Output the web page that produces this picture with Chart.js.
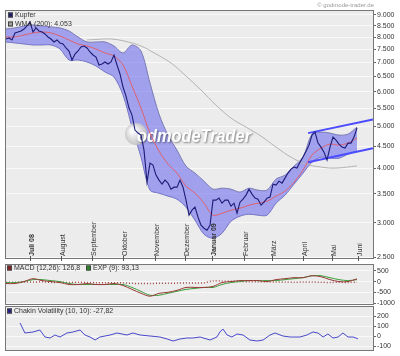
<!DOCTYPE html>
<html><head><meta charset="utf-8">
<script src="https://cdn.jsdelivr.net/npm/chart.js@4.4.0/dist/chart.umd.min.js"></script>
<style>
html,body{margin:0;padding:0;background:#fff;width:400px;height:356px;overflow:hidden}
canvas{position:absolute;left:0}
</style></head><body>
<canvas id="main" style="top:0px" width="400" height="262"></canvas>
<canvas id="macd" style="top:262px" width="400" height="44"></canvas>
<canvas id="chaikin" style="top:306px" width="400" height="50"></canvas>
<script>
// ---------- DATA ----------
// x values are sample indices (one sample ≈ 2 trading sessions, June 2008 – June 2009)
const monthLabels = ['Juli 08','August','September','Oktober','November','Dezember','Januar 09','Februar','März','April','Mai','Juni'];
const monthPos = [8,18.3,28.7,39,49.7,59.7,68.7,79.3,88.7,99,108.7,117.3];
const monthBold = [true,false,false,false,false,false,true,false,false,false,false,false];
const priceTicks = [2500,3000,3500,4000,4500,5000,5500,6000,6500,7000,7500,8000,8500,9000];

const price = [7926,7969,7885,8183,8226,8270,8358,8491,8673,8226,
 8403,8270,8226,8139,8011,7926,7802,7885,7761,7720,
 7557,7438,7093,7321,7438,7598,7637,7557,7399,7283,
 7206,6908,6945,7019,6945,7019,7283,6908,6587,6149,
 5862,5502,5301,4897,4821,4768,4404,3718,4112,4069,
 3859,3758,3679,3758,3699,3583,3621,3621,3758,3621,
 3381,3122,3206,3258,3090,2961,2914,2884,2961,3381,
 3381,3417,3327,3381,3381,3275,3327,3155,3345,3399,
 3472,3583,3490,3417,3399,3292,3345,3417,3435,3679,
 3660,3738,3699,3798,3901,3985,4027,4006,4134,4245,
 4381,4522,4768,4846,4571,4475,4358,4177,4475,4719,
 4644,4547,4475,4451,4571,4571,4719,4950];

const bandX = [0,3,6,9,12,15,18,21,24,27,30,33,36,39,42,45,48,51,54,57,60,63,66,69,72,75,78,81,84,87,90,93,96,99,102,105,108,111,114,117];
const bandUpper = [8358,8403,8491,8537,8491,8447,8403,8270,8011,7802,7802,7802,7637,7360,7679,7438,6280,5330,4768,4404,4047,3900,3738,3583,3602,3583,3527,3602,3564,3564,3778,3859,4047,4243,4793,4845,4819,4768,4793,4975];
const bandLower = [7802,7761,7720,7679,7679,7679,7518,7093,7093,7019,6871,6657,6481,5893,4975,4243,3564,3508,3453,3398,3258,3040,2823,2764,2838,3024,3106,3139,3122,3122,3327,3471,3679,3900,4133,4243,4220,4220,4312,4381];
const bandMid = [8011,8011,8097,8183,8226,8183,8054,7885,7720,7637,7518,7360,7245,6908,6181,5502,4819,4381,4090,3900,3640,3508,3327,3122,3155,3206,3240,3292,3327,3362,3453,3545,3718,3962,4289,4451,4547,4522,4571,4693];

const wmaX = [27,30,35,40,45,50,55,60,65,70,75,80,85,90,95,100,105,110,117];
const wma = [7885,7906,7926,7822,7637,7321,6981,6517,6051,5589,5218,4975,4743,4475,4243,4090,4027,4006,4053];

const trendX = [100.7,122.3];
const trendUpperY = [4819,5180];
const trendLowerY = [4133,4451];

const macdX = bandX;
const macd = [-91,-91,0,136,45,0,-45,-136,-136,-91,-136,-136,-91,-182,-364,-545,-682,-545,-500,-409,-273,-273,-273,-227,-45,0,45,45,45,0,91,136,182,182,273,227,91,0,0,127];
const macdSignal = [-45,-45,0,91,91,45,0,-91,-136,-136,-136,-136,-136,-136,-273,-455,-636,-636,-545,-455,-364,-318,-273,-273,-136,-45,0,45,45,45,45,91,136,182,273,273,182,91,45,93];
const macdHist = [-30,-30,-20,-20,-10,-40,-30,-40,-30,-40,-50,-60,-50,-60,-80,-90,-90,-80,-80,-70,-60,-70,-60,30,20,20,10,-10,-10,-10,-20,-20,-30,-20,-20,-30,-40,-30,-40,-20];
const macdTicks = [500,0,-500,-1000];

const chaikinX = [4.7,6.3,9,11.3,13,14.7,16.3,18,20.3,22.3,24.7,26.3,28,29.7,31.3,34.7,37,40.3,42.3,44.7,48,51.3,53.7,55.7,58,60.3,62.3,64.7,68,70.3,71.3,72.3,73.7,75.3,77,79,81.3,83.7,85.7,88,89.7,92.3,94.7,98,100.3,102.3,104,105.7,107.3,109,110.7,112.3,114,115.7,117.3];
const chaikin = [130,30,40,60,-10,-20,10,-10,30,40,60,10,-10,-40,-10,10,30,10,30,10,0,-10,-30,-50,-30,-20,-20,-10,-40,-10,40,70,10,-10,20,10,-40,-50,-40,10,30,0,-10,-10,10,40,30,-10,20,-20,-10,30,-10,-10,-28];
const chaikinTicks = [200,100,0,-100];

// ---------- HELPERS ----------
const FONT = '"Liberation Sans", Arial, sans-serif';
const pts = (xs, ys) => ys.map((v, i) => ({x: xs[i], y: v}));
const fmtDE = v => String(v).replace(/\B(?=(\d{3})+(?!\d))/g, '.');
const XMAX = 122.33;

function panelPlugin(id, bg, legend) {
  return {
    id,
    beforeDraw(chart) {
      const {ctx, chartArea: a} = chart;
      ctx.save();
      ctx.fillStyle = bg;
      ctx.fillRect(a.left, a.top, a.right - a.left, a.bottom - a.top);
      ctx.restore();
    },
    afterDraw(chart) {
      const {ctx, chartArea: a} = chart;
      ctx.save();
      ctx.strokeStyle = '#777';
      ctx.lineWidth = 1;
      ctx.strokeRect(Math.round(a.left) - 0.5, Math.round(a.top) - 0.5, Math.round(a.right - a.left) + 1, Math.round(a.bottom - a.top) + 1);
      ctx.font = '7px ' + FONT;
      ctx.textBaseline = 'middle';
      legend.forEach(it => {
        ctx.fillStyle = it.color;
        ctx.fillRect(it.x, it.y - 2.5, 5, 5);
        ctx.strokeStyle = '#444';
        ctx.strokeRect(it.x + 0.5, it.y - 2, 4, 4);
        ctx.fillStyle = '#333';
        ctx.fillText(it.text, it.x + 7, it.y + 0.5);
      });
      ctx.restore();
    }
  };
}

function yAxis(ticks, min, max, type, fmt) {
  return {
    type, position: 'right', min, max,
    afterBuildTicks: s => { s.ticks = ticks.map(v => ({value: v})); },
    afterFit: s => { s.width = 27; s.paddingTop = 0; s.paddingBottom = 0; },
    ticks: {callback: v => fmt(v), font: {family: FONT, size: 7}, color: '#333', padding: 1, autoSkip: false, maxRotation: 0},
    grid: {color: '#f9f9f9', lineWidth: 1, tickLength: 3, tickColor: '#666'},
    border: {display: true, color: '#555', width: 1}
  };
}
const xAxis = {type: 'linear', min: 0, max: XMAX, display: false};

// ---------- MAIN CHART ----------
const mainExtras = {
  id: 'mainExtras',
  afterDatasetDraw(chart, args) {
    if (args.index !== 1) return; // after the band has been painted
    const {ctx} = chart;
    ctx.save();
    const g = ctx.createRadialGradient(133, 130, 2, 136, 134, 12);
    g.addColorStop(0, 'rgba(255,255,255,0.95)');
    g.addColorStop(1, 'rgba(190,190,190,0.9)');
    ctx.fillStyle = g;
    ctx.beginPath(); ctx.arc(136, 134, 11, 0, Math.PI * 2); ctx.fill();
    ctx.font = 'italic bold 19px ' + FONT;
    ctx.textBaseline = 'alphabetic';
    ctx.shadowColor = 'rgba(0,0,0,0.45)';
    ctx.shadowOffsetX = 1; ctx.shadowOffsetY = 1; ctx.shadowBlur = 2;
    ctx.fillStyle = '#ffffff';
    ctx.fillText('odmodeTrader', 137, 142, 114);
    ctx.restore();
  },
  afterDraw(chart) {
    const {ctx, chartArea: a, scales: {x}} = chart;
    ctx.save();
    monthPos.forEach((p, k) => {
      const px = Math.round(x.getPixelForValue(p)) + 0.5;
      ctx.strokeStyle = '#555';
      ctx.lineWidth = 1;
      ctx.beginPath(); ctx.moveTo(px, a.bottom - 2); ctx.lineTo(px, a.bottom + 3); ctx.stroke();
      ctx.save();
      ctx.translate(px + 2, a.bottom - 2);
      ctx.rotate(-Math.PI / 2);
      ctx.font = (monthBold[k] ? 'bold ' : '') + '7px ' + FONT;
      ctx.fillStyle = '#333';
      ctx.textAlign = 'left';
      ctx.textBaseline = 'middle';
      ctx.fillText(monthLabels[k], 0, 0);
      ctx.restore();
    });
    ctx.font = '6px ' + FONT;
    ctx.fillStyle = '#999';
    ctx.textAlign = 'right';
    ctx.textBaseline = 'middle';
    ctx.fillText('© godmode-trader.de', 374, 5);
    ctx.restore();
  }
};

new Chart(document.getElementById('main'), {
  type: 'line',
  data: {
    datasets: [
      {label: 'Kupfer', data: pts(price.map((_, i) => i), price), borderColor: '#1c1c78', borderWidth: 1.1, pointRadius: 0, tension: 0, order: 0},
      {label: 'Band oben', data: pts(bandX, bandUpper), borderColor: '#7a7ab4', borderWidth: 1, pointRadius: 0, tension: 0.3, fill: '+1', backgroundColor: 'rgba(105,105,238,0.58)', order: 4},
      {label: 'Band unten', data: pts(bandX, bandLower), borderColor: '#7a7ab4', borderWidth: 1, pointRadius: 0, tension: 0.3, order: 5},
      {label: 'Mitte', data: pts(bandX, bandMid), borderColor: '#e0606e', borderWidth: 1, pointRadius: 0, tension: 0.3, order: 2},
      {label: 'WMA (200)', data: pts(wmaX, wma), borderColor: '#b4b4b4', borderWidth: 1, pointRadius: 0, tension: 0.4, order: 3},
      {label: 'Trend oben', data: pts(trendX, trendUpperY), borderColor: '#4b4bff', borderWidth: 2, pointRadius: 0, order: 1},
      {label: 'Trend unten', data: pts(trendX, trendLowerY), borderColor: '#4b4bff', borderWidth: 2, pointRadius: 0, order: 1}
    ]
  },
  options: {
    responsive: false, animation: false, devicePixelRatio: 1,
    layout: {padding: {left: 6, top: 11, right: 0, bottom: 4}},
    plugins: {legend: {display: false}, tooltip: {enabled: false}},
    scales: {x: xAxis, y: yAxis(priceTicks, 2490, 9190, 'logarithmic', fmtDE)}
  },
  plugins: [panelPlugin('mainPanel', '#ececec', [
    {x: 8, y: 15, color: '#1c1c6e', text: 'Kupfer'},
    {x: 8, y: 24, color: '#a0a0a0', text: 'WMA (200): 4.053'}
  ]), mainExtras]
});

// ---------- MACD ----------
new Chart(document.getElementById('macd'), {
  type: 'line',
  data: {
    datasets: [
      {label: 'MACD', data: pts(macdX, macd), borderColor: '#9a3838', borderWidth: 1, pointRadius: 0, tension: 0.3, order: 0},
      {label: 'EXP', data: pts(macdX, macdSignal), borderColor: '#3aa03a', borderWidth: 1, pointRadius: 0, tension: 0.3, order: 1},
      {label: 'Hist', data: pts(macdX, macdHist), borderColor: '#a04848', borderWidth: 1.5, borderDash: [1, 2], pointRadius: 0, tension: 0.3, order: 2}
    ]
  },
  options: {
    responsive: false, animation: false, devicePixelRatio: 1,
    layout: {padding: {left: 6, top: 3, right: 0, bottom: 2}},
    plugins: {legend: {display: false}, tooltip: {enabled: false}},
    scales: {x: xAxis, y: yAxis(macdTicks, -1045, 773, 'linear', v => String(v))}
  },
  plugins: [panelPlugin('macdPanel', '#ececec', [
    {x: 7, y: 268 - 262, color: '#8a2020', text: 'MACD (12,26): 126,8'},
    {x: 86, y: 268 - 262, color: '#208a20', text: 'EXP (9): 93,13'}
  ])]
});

// ---------- CHAIKIN ----------
new Chart(document.getElementById('chaikin'), {
  type: 'line',
  data: {
    datasets: [
      {label: 'Chakin Volatility', data: pts(chaikinX, chaikin), borderColor: '#4848cc', borderWidth: 1, pointRadius: 0, tension: 0}
    ]
  },
  options: {
    responsive: false, animation: false, devicePixelRatio: 1,
    layout: {padding: {left: 6, top: 1, right: 0, bottom: 6}},
    plugins: {legend: {display: false}, tooltip: {enabled: false}},
    scales: {x: xAxis, y: yAxis(chaikinTicks, -140, 290, 'linear', v => String(v))}
  },
  plugins: [panelPlugin('chPanel', '#ececec', [
    {x: 7, y: 311 - 306, color: '#22228a', text: 'Chakin Volatility (10, 10): -27,82'}
  ])]
});
</script>
</body></html>
